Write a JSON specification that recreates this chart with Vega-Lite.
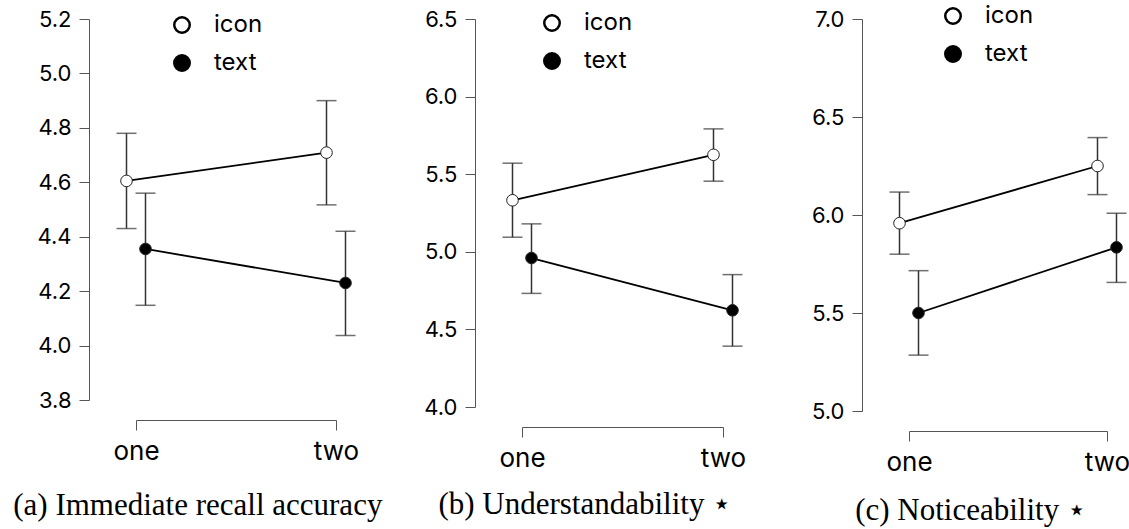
{
  "$schema": "https://vega.github.io/schema/vega-lite/v6.json",
  "background": "white",
  "padding": {"left": 13, "top": 4, "right": 5, "bottom": 5},
  "datasets": {
    "a": [
      {"cond": "one", "type": "icon", "mean": 4.605, "lo": 4.43, "hi": 4.78},
      {"cond": "one", "type": "text", "mean": 4.355, "lo": 4.148, "hi": 4.56},
      {"cond": "two", "type": "icon", "mean": 4.709, "lo": 4.517, "hi": 4.90},
      {"cond": "two", "type": "text", "mean": 4.23, "lo": 4.037, "hi": 4.42}
    ],
    "b": [
      {"cond": "one", "type": "icon", "mean": 5.332, "lo": 5.094, "hi": 5.571},
      {"cond": "one", "type": "text", "mean": 4.96, "lo": 4.732, "hi": 5.18},
      {"cond": "two", "type": "icon", "mean": 5.625, "lo": 5.455, "hi": 5.792},
      {"cond": "two", "type": "text", "mean": 4.623, "lo": 4.392, "hi": 4.853}
    ],
    "c": [
      {"cond": "one", "type": "icon", "mean": 5.958, "lo": 5.80, "hi": 6.117},
      {"cond": "one", "type": "text", "mean": 5.50, "lo": 5.285, "hi": 5.716},
      {"cond": "two", "type": "icon", "mean": 6.25, "lo": 6.104, "hi": 6.395},
      {"cond": "two", "type": "text", "mean": 5.835, "lo": 5.656, "hi": 6.009}
    ]
  },
  "config": {
    "view": {"stroke": null},
    "font": "Inter",
    "axis": {
      "labelFont": "Inter",
      "labelColor": "black",
      "domainColor": "#555",
      "tickColor": "#555",
      "domainWidth": 1,
      "tickWidth": 1,
      "tickSize": 10,
      "grid": false,
      "title": null
    },
    "axisX": {"labelFontSize": 26, "labelAngle": 0, "labelPadding": 8, "offset": 20},
    "axisY": {"labelFontSize": 22, "labelPadding": 8, "offset": 47},
    "legend": {
      "labelFont": "Inter",
      "labelFontSize": 24,
      "labelColor": "black",
      "symbolSize": 240,
      "symbolStrokeColor": "black",
      "symbolStrokeWidth": 2.5,
      "labelOffset": 20,
      "rowPadding": 12,
      "title": null
    },
    "title": {
      "font": "Liberation Serif",
      "fontSize": 31,
      "fontWeight": "normal",
      "color": "black",
      "orient": "bottom",
      "anchor": "middle",
      "frame": "bounds",
      "offset": 21
    }
  },
  "bounds": "flush",
  "spacing": 186,
  "resolve": {"legend": {"fill": "independent"}, "scale": {"y": "independent"}},
  "hconcat": [
    {
      "title": {"text": "(a) Immediate recall accuracy", "offset": 27},
      "width": 200,
      "height": 381,
      "data": {"name": "a"},
      "encoding": {
        "x": {"field": "cond", "type": "ordinal", "scale": {"type": "point", "padding": 0}},
        "xOffset": {"field": "type", "type": "nominal", "scale": {"type": "point", "range": [-9.5, 9.5], "padding": 0}}
      },
      "layer": [
        {"mark": {"type": "rule", "color": "#333", "strokeWidth": 1.5}, "encoding": {"y": {"field": "lo", "type": "quantitative", "scale": {"domain": [3.8, 5.2], "zero": false, "nice": false}, "axis": {"values": [3.8, 4.0, 4.2, 4.4, 4.6, 4.8, 5.0, 5.2], "format": ".1f"}}, "y2": {"field": "hi"}}},
        {"mark": {"type": "tick", "color": "#333", "thickness": 1.5, "size": 20, "orient": "horizontal"}, "encoding": {"y": {"field": "lo", "type": "quantitative"}}},
        {"mark": {"type": "tick", "color": "#333", "thickness": 1.5, "size": 20, "orient": "horizontal"}, "encoding": {"y": {"field": "hi", "type": "quantitative"}}},
        {"mark": {"type": "line", "color": "black", "strokeWidth": 1.8}, "encoding": {"y": {"field": "mean", "type": "quantitative"}, "detail": {"field": "type"}}},
        {"mark": {"type": "point", "shape": "circle", "filled": true, "size": 135, "stroke": "#222", "strokeWidth": 1, "opacity": 1},
         "encoding": {"y": {"field": "mean", "type": "quantitative"},
           "fill": {"field": "type", "type": "nominal", "scale": {"domain": ["icon", "text"], "range": ["white", "black"]},
             "legend": {"orient": "none", "legendX": 34, "legendY": -6}}}}
      ]
    },
    {
      "title": {"text": "(b) Understandability ⋆", "offset": 19},
      "width": 201,
      "height": 388,
      "data": {"name": "b"},
      "encoding": {
        "x": {"field": "cond", "type": "ordinal", "scale": {"type": "point", "padding": 0}},
        "xOffset": {"field": "type", "type": "nominal", "scale": {"type": "point", "range": [-10, 10], "padding": 0}}
      },
      "layer": [
        {"mark": {"type": "rule", "color": "#333", "strokeWidth": 1.5}, "encoding": {"y": {"field": "lo", "type": "quantitative", "scale": {"domain": [4.0, 6.5], "zero": false, "nice": false}, "axis": {"values": [4.0, 4.5, 5.0, 5.5, 6.0, 6.5], "format": ".1f"}}, "y2": {"field": "hi"}}},
        {"mark": {"type": "tick", "color": "#333", "thickness": 1.5, "size": 20, "orient": "horizontal"}, "encoding": {"y": {"field": "lo", "type": "quantitative"}}},
        {"mark": {"type": "tick", "color": "#333", "thickness": 1.5, "size": 20, "orient": "horizontal"}, "encoding": {"y": {"field": "hi", "type": "quantitative"}}},
        {"mark": {"type": "line", "color": "black", "strokeWidth": 1.8}, "encoding": {"y": {"field": "mean", "type": "quantitative"}, "detail": {"field": "type"}}},
        {"mark": {"type": "point", "shape": "circle", "filled": true, "size": 135, "stroke": "#222", "strokeWidth": 1, "opacity": 1},
         "encoding": {"y": {"field": "mean", "type": "quantitative"},
           "fill": {"field": "type", "type": "nominal", "scale": {"domain": ["icon", "text"], "range": ["white", "black"]},
             "legend": {"orient": "none", "legendX": 18, "legendY": -8}}}}
      ]
    },
    {
      "title": "(c) Noticeability ⋆",
      "width": 198,
      "height": 392,
      "data": {"name": "c"},
      "encoding": {
        "x": {"field": "cond", "type": "ordinal", "scale": {"type": "point", "padding": 0}},
        "xOffset": {"field": "type", "type": "nominal", "scale": {"type": "point", "range": [-10, 10], "padding": 0}}
      },
      "layer": [
        {"mark": {"type": "rule", "color": "#333", "strokeWidth": 1.5}, "encoding": {"y": {"field": "lo", "type": "quantitative", "scale": {"domain": [5.0, 7.0], "zero": false, "nice": false}, "axis": {"values": [5.0, 5.5, 6.0, 6.5, 7.0], "format": ".1f"}}, "y2": {"field": "hi"}}},
        {"mark": {"type": "tick", "color": "#333", "thickness": 1.5, "size": 20, "orient": "horizontal"}, "encoding": {"y": {"field": "lo", "type": "quantitative"}}},
        {"mark": {"type": "tick", "color": "#333", "thickness": 1.5, "size": 20, "orient": "horizontal"}, "encoding": {"y": {"field": "hi", "type": "quantitative"}}},
        {"mark": {"type": "line", "color": "black", "strokeWidth": 1.8}, "encoding": {"y": {"field": "mean", "type": "quantitative"}, "detail": {"field": "type"}}},
        {"mark": {"type": "point", "shape": "circle", "filled": true, "size": 135, "stroke": "#222", "strokeWidth": 1, "opacity": 1},
         "encoding": {"y": {"field": "mean", "type": "quantitative"},
           "fill": {"field": "type", "type": "nominal", "scale": {"domain": ["icon", "text"], "range": ["white", "black"]},
             "legend": {"orient": "none", "legendX": 32, "legendY": -15}}}}
      ]
    }
  ]
}
